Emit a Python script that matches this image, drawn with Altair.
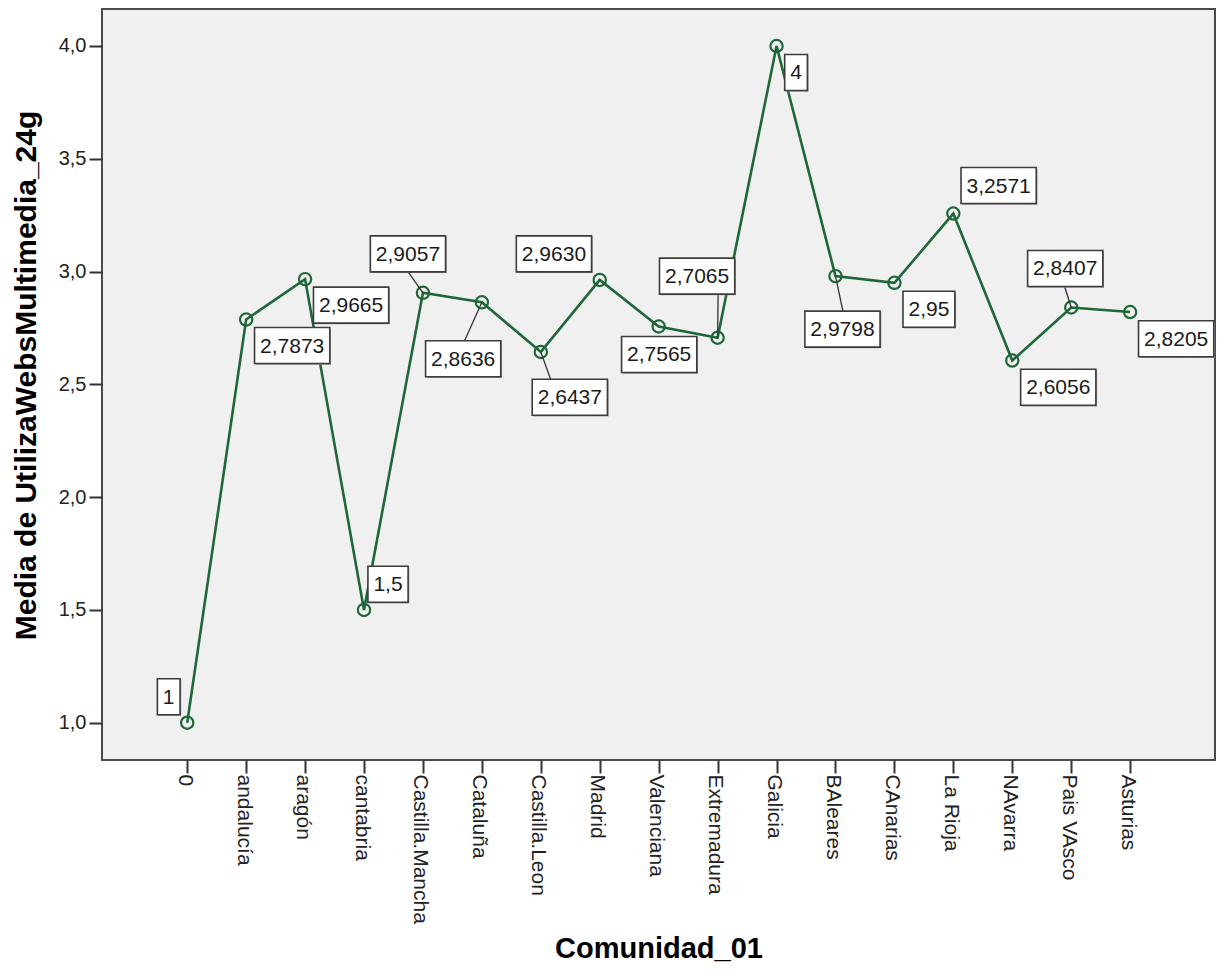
import json
import altair as alt
import pandas as pd

# ---------------- data ----------------
categories = ["0", "andalucía", "aragón", "cantabria", "Castilla.Mancha", "Cataluña",
              "Castilla.Leon", "Madrid", "Valenciana", "Extremadura", "Galicia",
              "BAleares", "CAnarias", "La Rioja", "NAvarra", "Pais VAsco", "Asturias"]
values = [1.0, 2.7873, 2.9665, 1.5, 2.9057, 2.8636, 2.6437, 2.9630, 2.7565, 2.7065,
          4.0, 2.9798, 2.95, 3.2571, 2.6056, 2.8407, 2.8205]
value_labels = ["1", "2,7873", "2,9665", "1,5", "2,9057", "2,8636", "2,6437", "2,9630",
                "2,7565", "2,7065", "4", "2,9798", "2,95", "3,2571", "2,6056", "2,8407", "2,8205"]
y_ticks = [1.0, 1.5, 2.0, 2.5, 3.0, 3.5, 4.0]

# ---------------- label placement (pixel offsets of box centre from the point) ----------------
box_dx = [-18.5, 46, 46, 24, -15, -18.7, 29, -45.8, 0.5, -20.5, 19.5, 7, 34.5, 45.3, 46, -6, 46]
box_dy = [-26, 26, 26, -25.6, -39, 56.4, 45.3, -26, 28, -61.6, 26.5, 53, 26.4, -28, 26.7, -39, 26.7]
# leader line end (pixel offsets from the point); None = no leader
leader_end = [None, None, None, None, (-14.7, -20.8), (-17.3, 38.4), (9.8, 27.4), None, None,
              (0.5, -44), None, (7.5, 35.2), None, None, None, (-6.5, -20.8), None]

# ---------------- layout / style ----------------
W, H = 1113, 751
XMIN, XMAX = -1.446, 17.44
YMIN, YMAX = 0.8346, 4.164
PX_X = W / (XMAX - XMIN)
PX_Y = H / (YMAX - YMIN)
GREEN = "#1f6639"
FONT = "Liberation Sans, Arial, Helvetica, sans-serif"
LABEL_FS = 21
BOX_H = 36


def text_width(s, fs):
    return fs * sum(0.278 if c == "," else 0.556 for c in s)


idx = list(range(len(categories)))
df = pd.DataFrame({"i": idx, "cat": categories, "v": values, "lab": value_labels})

box_rows = []
for i, v, lab, dx, dy in zip(idx, values, value_labels, box_dx, box_dy):
    bw = text_width(lab, LABEL_FS) + 11
    cx = i + dx / PX_X
    cy = v - dy / PX_Y
    box_rows.append({
        "cx": cx, "cy": cy,
        "x1": cx - bw / 2 / PX_X, "x2": cx + bw / 2 / PX_X,
        "y1": cy - BOX_H / 2 / PX_Y, "y2": cy + BOX_H / 2 / PX_Y,
        "sx1": cx - bw / 2 / PX_X + 1.2 / PX_X, "sx2": cx + bw / 2 / PX_X + 1.2 / PX_X,
        "sy1": cy - BOX_H / 2 / PX_Y - 1.2 / PX_Y, "sy2": cy + BOX_H / 2 / PX_Y - 1.2 / PX_Y,
        "lab": lab,
    })
boxes = pd.DataFrame(box_rows)

lead_rows = []
for i, v, le in zip(idx, values, leader_end):
    if le is None:
        continue
    lead_rows.append({"x": i, "y": v, "x2": i + le[0] / PX_X, "y2": v - le[1] / PX_Y})
leaders = pd.DataFrame(lead_rows)

xscale = alt.Scale(domain=[XMIN, XMAX], nice=False, zero=False)
yscale = alt.Scale(domain=[YMIN, YMAX], nice=False, zero=False)

xaxis = alt.Axis(
    values=idx,
    labelExpr=json.dumps(categories, ensure_ascii=False) + "[datum.value]",
    labelAngle=90, labelAlign="left", labelBaseline="middle", labelOffset=-3,
    labelFontSize=LABEL_FS, labelFont=FONT, labelColor="#222222", labelPadding=1,
    tickSize=13, tickWidth=2, tickColor="#333333", domain=False, grid=False,
    labelOverlap=False, labelBound=False, labelFlush=False,
    title="Comunidad_01", titleFont=FONT, titleFontSize=29, titleFontWeight="bold",
    titleColor="#000000", titleX=W / 2, titleY=197, titleAlign="center",
    titleBaseline="alphabetic",
)
yaxis = alt.Axis(
    values=y_ticks,
    labelExpr="replace(format(datum.value, '.1f'), '.', ',')",
    labelFontSize=20, labelFont=FONT, labelColor="#222222", labelPadding=3,
    tickSize=13, tickWidth=2, tickColor="#333333", domain=False, grid=False,
    labelOverlap=False,
    title="Media de UtilizaWebsMultimedia_24g", titleFont=FONT, titleFontSize=30,
    titleFontWeight="bold", titleColor="#000000", titleX=-67, titleY=366,
    titleAlign="center", titleBaseline="alphabetic", titleAngle=270,
)

base = alt.Chart(df)

line = base.mark_line(color=GREEN, strokeWidth=2.6).encode(
    x=alt.X("i:Q", scale=xscale, axis=xaxis),
    y=alt.Y("v:Q", scale=yscale, axis=yaxis),
)
pts = base.mark_point(shape="circle", filled=False, size=150, strokeWidth=2.2, color=GREEN,
                      opacity=1).encode(
    x=alt.X("i:Q", scale=xscale, axis=xaxis),
    y=alt.Y("v:Q", scale=yscale, axis=yaxis),
)
lead = alt.Chart(leaders).mark_rule(color="#333333", strokeWidth=1.3).encode(
    x=alt.X("x:Q", scale=xscale, axis=xaxis),
    y=alt.Y("y:Q", scale=yscale, axis=yaxis),
    x2="x2:Q", y2="y2:Q",
)
shadow = alt.Chart(boxes).mark_rect(fill="#9a9a9a").encode(
    x=alt.X("sx1:Q", scale=xscale, axis=xaxis), x2="sx2:Q",
    y=alt.Y("sy1:Q", scale=yscale, axis=yaxis), y2="sy2:Q",
)
rect = alt.Chart(boxes).mark_rect(fill="#ffffff", stroke="#3c3c3c", strokeWidth=1.6).encode(
    x=alt.X("x1:Q", scale=xscale, axis=xaxis), x2="x2:Q",
    y=alt.Y("y1:Q", scale=yscale, axis=yaxis), y2="y2:Q",
)
txt = alt.Chart(boxes).mark_text(font=FONT, fontSize=LABEL_FS, color="#1a1a1a",
                                 align="center", baseline="middle", dy=1).encode(
    x=alt.X("cx:Q", scale=xscale, axis=xaxis),
    y=alt.Y("cy:Q", scale=yscale, axis=yaxis),
    text="lab:N",
)

chart = alt.layer(line, pts, lead, shadow, rect, txt).properties(
    width=W, height=H,
    padding={"left": 94, "top": 1, "right": 1, "bottom": 204},
    autosize=alt.AutoSizeParams(type="none"),
    background="#ffffff",
).configure_view(fill="#f0f0f0", stroke="#4a4a4a", strokeWidth=2)

chart.save("out.html", embed_options={"renderer": "svg", "actions": False})
